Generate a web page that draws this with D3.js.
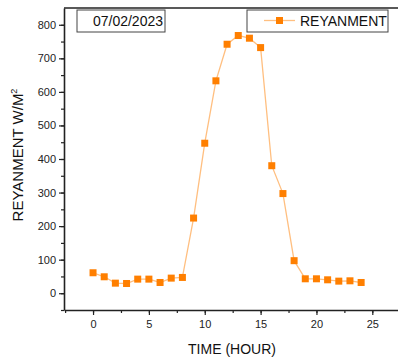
<!DOCTYPE html>
<html>
<head>
<meta charset="utf-8">
<script src="https://cdn.jsdelivr.net/npm/d3@7"></script>
<style>
  body { margin: 0; background: #fff; }
  text { font-family: "Liberation Sans", Arial, sans-serif; }
</style>
</head>
<body>
<div id="chart"></div>
<script>
// data
hours = [0,1,2,3,4,5,6,7,8,9,10,11,12,13,14,15,16,17,18,19,20,21,22,23,24]
reyanment = [61,49,30,29,42,42,32,45,47,224,447,633,742,768,760,732,380,297,97,43,43,40,36,37,32]
xTicks = [0,5,10,15,20,25]
yTicks = [0,100,200,300,400,500,600,700,800]
dateLabel = "07/02/2023"
seriesName = "REYANMENT"

W = 398, H = 360
margin = {top: 8, right: 0, bottom: 50, left: 64}
width = W - margin.left - margin.right
height = H - margin.top - margin.bottom

svg = d3.select("#chart")
  .append("svg")
  .attr("width", W)
  .attr("height", H)

g = svg.append("g")
  .attr("transform", `translate(${margin.left}, ${margin.top})`)

x = d3.scaleLinear().domain([-2.6, 27.3]).range([0, width])
y = d3.scaleLinear().domain([-50, 850]).range([height, 0])

// minor ticks
g.append("g")
  .attr("transform", `translate(0, ${height})`)
  .call(d3.axisBottom(x).tickValues(d3.range(-2.5, 27.5, 2.5)).tickSize(3).tickFormat(""))
  .call(a => a.select(".domain").remove())
  .selectAll("line").attr("stroke", "#222").attr("stroke-width", 1.2)
g.append("g")
  .call(d3.axisLeft(y).tickValues(d3.range(-50, 850, 50)).tickSize(3).tickFormat(""))
  .call(a => a.select(".domain").remove())
  .selectAll("line").attr("stroke", "#222").attr("stroke-width", 1.2)

// major axes
xAxis = g.append("g")
  .attr("transform", `translate(0, ${height})`)
  .call(d3.axisBottom(x).tickValues(xTicks).tickSize(5).tickSizeOuter(0).tickPadding(5))
yAxis = g.append("g")
  .call(d3.axisLeft(y).tickValues(yTicks).tickSize(5).tickSizeOuter(0).tickPadding(3))

;[xAxis, yAxis].forEach(a => {
  a.select(".domain").attr("stroke", "#222").attr("stroke-width", 1.6)
  a.selectAll(".tick line").attr("stroke", "#222").attr("stroke-width", 1.2)
  a.selectAll("text")
    .style("font-family", "Liberation Sans, Arial, sans-serif")
    .style("font-size", "11px")
    .attr("fill", "#222")
})

// top border
g.append("line")
  .attr("x1", 0).attr("x2", width)
  .attr("y1", 0).attr("y2", 0)
  .attr("stroke", "#222").attr("stroke-width", 1.6)

// line + markers
g.append("path")
  .datum(hours.map((h, i) => [h, reyanment[i]]))
  .attr("fill", "none")
  .attr("stroke", "#ffbf80")
  .attr("stroke-width", 1.3)
  .attr("d", d3.line().x(d => x(d[0])).y(d => y(d[1])))

g.selectAll(".pt")
  .data(hours.map((h, i) => [h, reyanment[i]]))
  .join("rect")
    .attr("class", "pt")
    .attr("x", d => x(d[0]) - 3.5)
    .attr("y", d => y(d[1]) - 3.5)
    .attr("width", 7)
    .attr("height", 7)
    .attr("fill", "#ff7f00")

// date box
svg.append("rect")
  .attr("x", 77).attr("y", 10)
  .attr("width", 88).attr("height", 22)
  .attr("fill", "#fff").attr("stroke", "#444").attr("stroke-width", 1)
svg.append("text")
  .attr("x", 163).attr("y", 26)
  .attr("text-anchor", "end")
  .style("font-size", "14px")
  .attr("fill", "#111")
  .text(dateLabel)

// legend
svg.append("rect")
  .attr("x", 247).attr("y", 10)
  .attr("width", 141).attr("height", 22)
  .attr("fill", "#fff").attr("stroke", "#444").attr("stroke-width", 1)
svg.append("line")
  .attr("x1", 264).attr("x2", 295)
  .attr("y1", 20.5).attr("y2", 20.5)
  .attr("stroke", "#ffbf80").attr("stroke-width", 1.3)
svg.append("rect")
  .attr("x", 276).attr("y", 17)
  .attr("width", 7).attr("height", 7)
  .attr("fill", "#ff7f00")
svg.append("text")
  .attr("x", 300).attr("y", 26)
  .style("font-size", "14px")
  .attr("fill", "#111")
  .text(seriesName)

// axis titles
svg.append("text")
  .attr("x", 232).attr("y", 354)
  .attr("text-anchor", "middle")
  .style("font-size", "14px")
  .attr("fill", "#111")
  .text("TIME (HOUR)")

yTitle = svg.append("text")
  .attr("transform", "translate(23, 155) rotate(-90)")
  .attr("text-anchor", "middle")
  .style("font-size", "15px")
  .attr("fill", "#111")
yTitle.append("tspan").text("REYANMENT W/M")
yTitle.append("tspan").attr("dy", -6).style("font-size", "9px").text("2")
</script>
</body>
</html>
